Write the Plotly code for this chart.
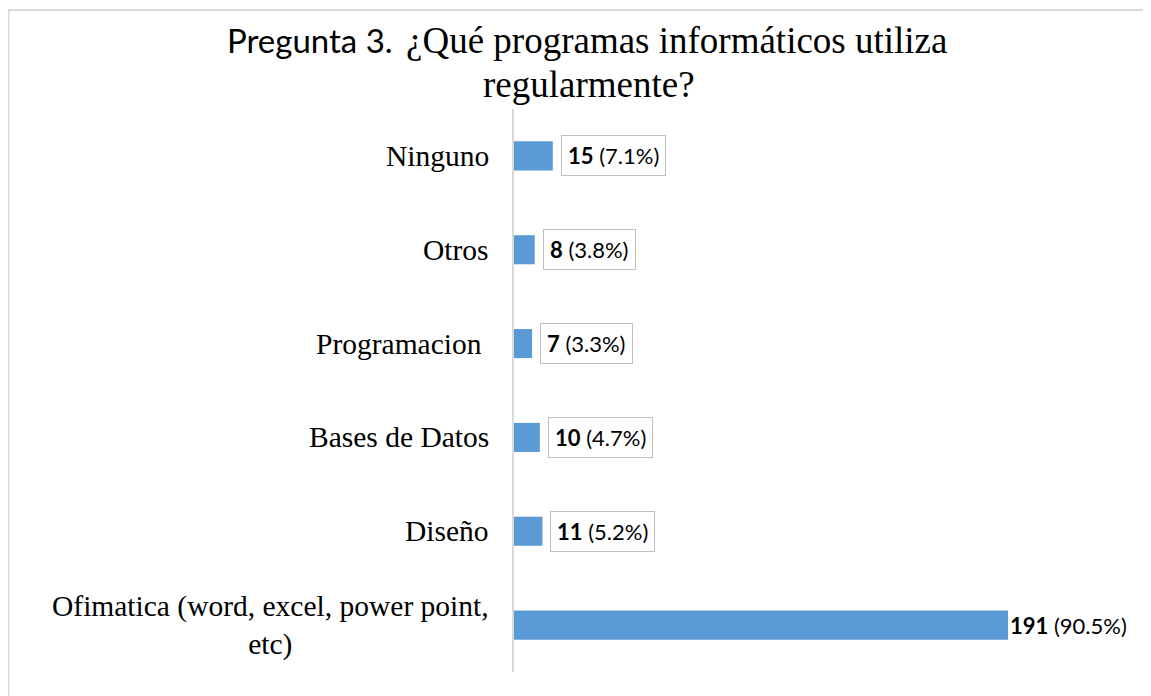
import plotly.graph_objects as go

# ---- data ----
categories = ["Ofimatica", "Diseño", "Bases de Datos", "Programacion", "Otros", "Ninguno"]
display_labels = ["Ofimatica (word, excel, power point,<br>etc)", "Diseño", "Bases de Datos",
                  "Programacion\u00a0", "Otros", "Ninguno"]
counts = [191, 11, 10, 7, 8, 15]
percents = ["90.5%", "5.2%", "4.7%", "3.3%", "3.8%", "7.1%"]
boxed = [False, True, True, True, True, True]
title_part1 = "Pregunta 3."
title_part2 = "¿Qué programas informáticos utiliza"
title_part3 = "regularmente?"

# page body has an 8px margin, so the figure is 8px smaller and everything is offset
OFF = 8
W, H = 1151 - OFF, 696 - OFF
ML, MR, MT, MB = 514 - OFF, 11, 109 - OFF, 24
PW, PH = W - ML - MR, H - MT - MB

BAR = "#5B9BD5"
SERIF = "Liberation Serif"
SANS = "Lato"


def px_x(p):  # screen pixel -> paper x
    return (p - OFF - ML) / PW


def px_y(p):  # screen pixel -> paper y
    return (H - MB - (p - OFF)) / PH


fig = go.Figure(go.Bar(
    x=counts, y=categories, orientation="h",
    marker=dict(color=BAR, line=dict(width=0)),
    hoverinfo="skip",
))

annotations = []
# category labels
for cat, lab in zip(categories, display_labels):
    annotations.append(dict(
        x=0, xref="paper", y=cat, yref="y", text=lab, showarrow=False,
        xanchor="right", yanchor="middle", xshift=-23, align="center",
        font=dict(family=SERIF, size=29.5, color="#000000"),
    ))
# data labels
for cat, v, p, b in zip(categories, counts, percents, boxed):
    annotations.append(dict(
        x=v, xref="x", y=cat, yref="y", text=f"<b>{v}</b> ({p})", showarrow=False,
        xanchor="left", yanchor="middle",
        xshift=8 if b else 2,
        font=dict(family=SANS, size=22, color="#000000"),
        bordercolor="#BFBFBF" if b else "rgba(0,0,0,0)", borderwidth=1 if b else 0,
        borderpad=6 if b else 0, bgcolor="#FFFFFF" if b else "rgba(0,0,0,0)",
    ))
# title pieces
annotations.append(dict(
    x=px_x(225), y=px_y(40), xref="paper", yref="paper", text=title_part1,
    showarrow=False, xanchor="left", yanchor="middle",
    font=dict(family=SANS, size=33, color="#000000"),
))
annotations.append(dict(
    x=px_x(404), y=px_y(40), xref="paper", yref="paper", text=title_part2,
    showarrow=False, xanchor="left", yanchor="middle",
    font=dict(family=SERIF, size=37, color="#000000"),
))
annotations.append(dict(
    x=px_x(589), y=px_y(84), xref="paper", yref="paper", text=title_part3,
    showarrow=False, xanchor="center", yanchor="middle",
    font=dict(family=SERIF, size=37, color="#000000"),
))

fig.update_layout(
    width=W, height=H,
    margin=dict(l=ML, r=MR, t=MT, b=MB),
    paper_bgcolor="#FFFFFF", plot_bgcolor="#FFFFFF",
    bargap=0.69,
    showlegend=False,
    xaxis=dict(range=[0, PW / (494 / 191)], visible=False, showgrid=False, zeroline=False, fixedrange=True),
    yaxis=dict(
        categoryorder="array", categoryarray=categories,
        showticklabels=False, showgrid=False, zeroline=False,
        showline=True, linecolor="#D9D9D9", linewidth=2, ticks="",
        range=[-0.5, len(categories) - 0.5],
    ),
    annotations=annotations,
    shapes=[dict(
        type="rect", xref="paper", yref="paper",
        x0=px_x(OFF + 0.5), x1=px_x(1200), y0=px_y(760), y1=px_y(OFF + 2),
        line=dict(color="#D9D9D9", width=2), fillcolor="rgba(0,0,0,0)", layer="below",
    )],
)

fig.write_html("out.html")
